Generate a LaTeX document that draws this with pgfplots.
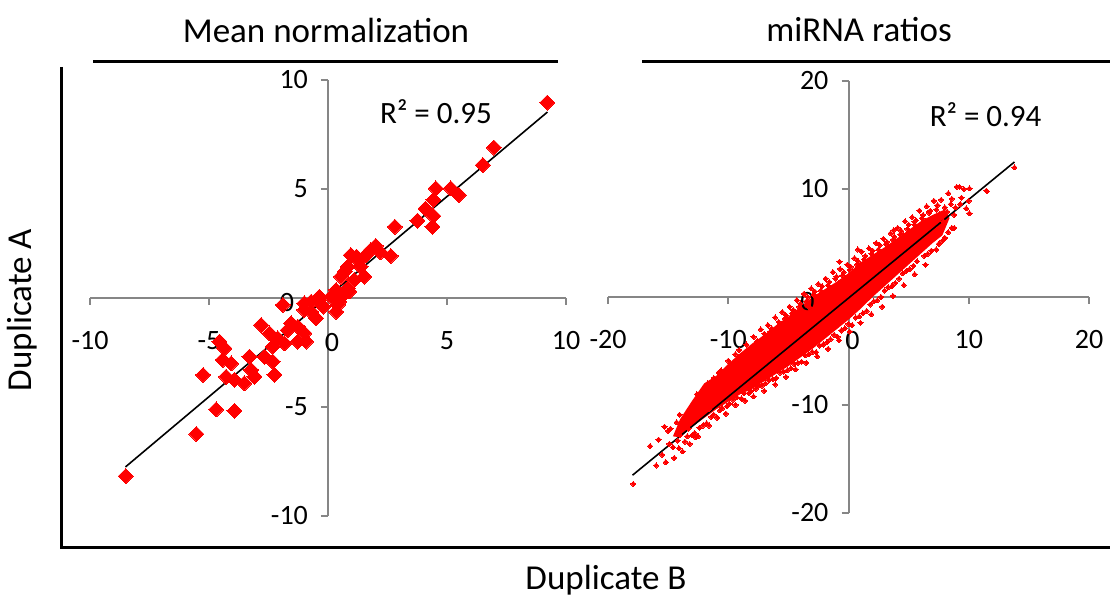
\documentclass[border=0pt]{standalone}
\usepackage{fontspec}
\setmainfont{Carlito}
\usepackage{pgfplots}
\pgfplotsset{compat=1.18}
\definecolor{axgray}{RGB}{134,134,134}
\tikzset{zlab/.style={font=\fontsize{14}{16}\selectfont}}
\pgfplotsset{
  panel/.style={
    scale only axis,
    axis lines=middle,
    axis line style={axgray, line width=1pt, -},
    every tick/.style={axgray, line width=1pt},
    tick align=outside,
    major tick length=3.5pt,
    /pgf/number format/assume math mode=true,
    ticklabel style={font=\fontsize{14}{16}\selectfont, text=black},
    xticklabel style={anchor=center, yshift=-18pt},
    yticklabel style={anchor=east, xshift=-3pt},
    clip=false,
  },
  redpts/.style={only marks, mark=square*, mark options={rotate=45, fill=red, draw=red, line width=0pt}},
}
\begin{document}
\begin{tikzpicture}
\useasboundingbox (0,0) rectangle (555pt,299.5pt);
% frame and titles
\draw[line width=1.5pt] (30.5pt,266pt) -- (30.5pt,25.5pt) -- (555pt,25.5pt);
\draw[line width=1.5pt] (46.5pt,268.5pt) -- (279pt,268.5pt);
\draw[line width=1.5pt] (321pt,268.5pt) -- (555pt,268.5pt);
\node[font=\fontsize{17.5}{20}\selectfont] at (163pt,284.5pt) {Mean normalization};
\node[font=\fontsize{17.5}{20}\selectfont] at (429.5pt,284.5pt) {miRNA ratios};
\node[font=\fontsize{17.5}{20}\selectfont, rotate=90] at (11pt,144.5pt) {Duplicate A};
\node[font=\fontsize{17.5}{20}\selectfont] at (303pt,9.5pt) {Duplicate B};

\begin{axis}[panel, at={(45pt,41.5pt)}, anchor=south west,
  width=238pt, height=218pt,
  xmin=-10, xmax=10, ymin=-10, ymax=10,
  xtick={-10,-5,0,5,10}, ytick={-10,-5,0,5,10}]
\addplot[redpts, mark size=2.65pt] coordinates {
(9.21,8.96) (6.97,6.9) (6.51,6.1) (4.53,5.03) (5.16,5.03) (5.5,4.72) (4.43,4.5) (4.1,4.1)
(4.43,3.76) (3.76,3.55) (4.39,3.27) (2.81,3.27) (2.64,1.93) (2.01,2.39) (1.8,2.2) (1.6,1.97)
(0.96,1.97) (0.83,1.44) (1.38,1.44) (0.55,0.98) (1.1,0.83) (1.52,0.98) (0.83,0.44) (0.34,0.37)
(0.47,-0.17) (0.13,0.06) (-0.36,0.06) (-0.71,-0.17) (-1.9,-0.32) (-0.99,-0.55) (-0.99,-0.24)
(-0.43,-0.09) (-0.71,-0.63) (0.41,-0.32) (0.34,-0.63) (-0.5,-0.93) (-2.81,-1.24) (-2.46,-1.62)
(-1.55,-1.16) (-1.69,-1.47) (-2.11,-1.85) (-1.27,-1.32) (-0.99,-1.62) (-0.92,-2.0) (-1.27,-2.0)
(-1.83,-2.08) (-2.32,-2.23) (-2.32,-2.92) (-2.67,-2.69) (-2.25,-3.53) (-3.3,-2.69) (-3.23,-3.3)
(-3.09,-3.61) (-3.51,-3.91) (-3.93,-3.76) (-4.28,-3.61) (-4.07,-3.0) (-4.42,-2.84) (-4.35,-2.31)
(-4.56,-2.0) (-5.25,-3.53) (-4.7,-5.11) (-3.93,-5.18) (-5.53,-6.24) (-8.5,-8.17)
(2.2,2.1) (1.3,1.7) (0.7,1.2) (1.2,1.9) (0.6,0.1) (0.9,0.3) (-0.2,-0.4)
};
\addplot[black, line width=0.8pt, no marks] coordinates {(-8.51,-7.75) (9.22,8.53)};
\node[font=\fontsize{15.5}{18}\selectfont] at (axis cs:4.54,8.53) {R² = 0.95};
\node[zlab] at (axis cs:0.17,-2.02) {0};
\node[zlab, anchor=east] at (axis cs:-1.13,-0.23) {0};
\end{axis}

\begin{axis}[panel, at={(304pt,43pt)}, anchor=south west,
  width=240.5pt, height=216pt,
  xmin=-20, xmax=20, ymin=-20, ymax=20,
  xtick={-20,-10,0,10,20}, ytick={-20,-10,0,10,20}]
% dense core of the point cloud
\addplot[fill=red, draw=none, forget plot] coordinates {
(-14.6,-12.9) (-14,-11.3) (-13,-9.6) (-12,-8.0) (-11,-7.3) (-10,-6.2) (-9,-5.2) (-8,-4.3) (-7,-3.5)
(-6,-2.6) (-5,-1.8) (-4,-0.9) (-3,0.0) (-2,0.7) (-1,1.4) (0,2.2) (1,3.2) (2,3.9) (3,4.6) (4,5.4)
(5,6.2) (6,7.0) (7,7.6) (8,8.1) (8.4,7.3) (7.8,5.7)
(7,5.0) (6,4.0) (5,3.0) (4,2.0) (3,1.0) (2,0.0) (1,-1.1) (0,-2.1) (-1,-3.0) (-2,-3.9) (-3,-4.8)
(-4,-5.6) (-5,-6.4) (-6,-7.1) (-7,-7.8) (-8,-8.5) (-9,-9.0) (-10,-9.7) (-11,-10.4) (-12,-11.2)
(-13,-12.0) (-14,-13.0) (-14.6,-12.9)
};
\addplot[redpts, mark size=0.9pt] coordinates {
(-16.5,-13.8) (-15.8,-13.2) (-15.5,-14.6) (-15.0,-12.4) (-14.6,-13.9) (-14.3,-11.6) (-14.0,-12.8)
(-13.8,-14.3) (-13.5,-11.0) (-13.3,-12.2) (-13.0,-10.3) (-12.7,-13.0) (-12.5,-9.5) (-12.2,-10.6)
(-12.0,-8.6) (-11.7,-8.0) (-11.5,-9.0) (-11.2,-7.5) (-10.9,-8.3) (-10.6,-6.8) (-10.3,-7.4)
(-10.0,-5.9) (-9.7,-6.5) (-9.4,-5.3) (-9.1,-4.9) (-8.8,-5.6) (-8.5,-4.4) (-8.2,-4.9) (-7.9,-3.7)
(-7.6,-4.1) (-7.3,-3.0) (-7.0,-3.4) (-6.7,-2.6) (-6.4,-2.9) (-6.1,-1.9) (-5.8,-2.3) (-5.5,-1.4)
(-5.2,-1.7) (-4.9,-0.9) (-4.6,-1.2) (-4.3,-0.3) (-4.0,-0.6) (-3.7,0.3) (-3.4,0.0) (-3.1,0.8)
(-2.8,0.5) (-2.5,1.2) (-2.2,1.0) (-1.9,1.7) (-1.6,1.4) (-1.3,2.3) (-1.0,1.9) (-0.7,2.6) (-0.4,2.3)
(-0.1,3.0) (0.2,2.8) (0.5,3.6) (0.8,3.3) (1.1,4.2) (1.4,3.8) (1.7,4.5) (2.0,4.3) (2.3,5.0) (2.6,4.8)
(2.9,5.4) (3.2,5.1) (3.5,5.9) (3.8,5.6) (4.1,6.4) (4.4,6.1) (4.7,7.0) (5.0,6.7) (5.3,7.4) (5.6,7.1)
(5.9,8.0) (6.2,7.6) (6.5,8.4) (6.8,8.0) (7.1,8.9) (7.4,8.5) (7.7,9.0) (8.0,8.3) (8.3,9.6) (8.6,9.1)
(9.0,10.2) (9.3,8.6) (9.6,10.0) (8.8,7.6) (9.8,8.2) (10.0,8.9) (11.5,9.8) (13.8,12.0)
(9.23,10.2) (10.06,10.06) (11.45,9.85) (10.06,7.75) (8.8,6.4) (8.0,5.45) (0.78,4.4) (-0.75,3.27)
(3.77,6.2) (5.49,6.97) (6.73,7.9) (-14.05,-10.9) (-11.55,-8.0)
(-17.9,-17.3) (-16.0,-15.6) (-15.2,-15.3) (-14.5,-14.9) (-13.6,-13.4) (-13.0,-12.8) (-12.4,-12.1)
(-11.8,-11.7) (-11.2,-10.9) (-10.5,-10.3) (-9.9,-9.9) (-9.3,-9.3) (-8.7,-8.9) (-8.1,-8.7)
(-7.5,-8.2) (-6.9,-8.0) (-6.3,-7.6) (-5.7,-7.0) (-5.1,-6.8) (-4.5,-6.2) (-3.9,-6.0) (-3.3,-5.3)
(-2.7,-5.1) (-2.1,-4.4) (-1.5,-3.9) (-0.9,-3.7) (-0.3,-2.9) (0.3,-2.6) (0.9,-1.8) (1.5,-1.3)
(2.1,-0.4) (2.7,0.0) (3.3,0.9) (3.9,1.3) (4.5,2.2) (5.1,2.6) (5.7,3.3) (6.3,3.8) (6.9,4.3)
(7.5,4.9) (8.0,5.5) (8.6,6.4) (7.2,5.8) (6.0,4.6)
(-12.6,-9.0) (-11.4,-7.9) (-10.8,-7.0) (-9.9,-6.6) (-9.2,-5.7) (-8.4,-5.0) (-7.7,-4.3) (-7.1,-3.8)
(-6.5,-3.2) (-5.9,-2.8) (-5.3,-2.0) (-4.7,-1.5) (-4.1,-0.9) (-3.5,-0.4) (-2.9,0.2) (-2.3,0.6)
(-1.7,1.1) (-1.1,1.7) (-0.5,2.0) (0.1,2.5) (0.7,3.0) (1.3,3.5) (1.9,4.0) (2.5,4.4) (3.1,4.9)
(3.7,5.3) (4.3,5.8) (4.9,6.3) (5.5,6.7) (6.1,7.3) (6.7,7.8) (7.3,8.1)
(-12.8,-12.6) (-12.1,-11.9) (-11.4,-11.1) (-10.7,-10.5) (-10.1,-10.1) (-9.6,-9.5) (-8.9,-9.4)
(-8.3,-8.9) (-7.7,-8.5) (-7.2,-8.2) (-6.6,-7.7) (-6.0,-7.5) (-5.4,-6.9) (-4.8,-6.6) (-4.2,-6.1)
(-3.6,-5.4) (-3.0,-5.1) (-2.4,-4.5) (-1.8,-4.2) (-1.2,-3.5) (-0.6,-3.1) (0.0,-2.5) (0.6,-1.9)
(1.2,-1.5) (1.8,-0.7) (2.4,-0.3) (3.0,0.6) (3.6,1.0) (4.2,1.7) (4.8,2.4) (5.4,2.9) (6.6,4.0)
(7.8,5.2) (8.3,6.0)
(-15.3,-12.0) (-14.8,-12.2) (-14.2,-13.3) (-13.9,-11.9) (-13.4,-12.9) (-13.1,-11.4) (-12.9,-10.9)
(-12.3,-9.9) (-11.9,-9.3) (-11.6,-10.4) (-11.0,-8.2) (-10.4,-8.7) (-9.8,-7.5) (-9.5,-8.1)
(-8.9,-6.3) (-8.6,-7.3) (-8.0,-5.6) (-7.4,-5.1) (-6.8,-4.7) (-6.2,-3.9) (-5.6,-3.4) (-5.0,-2.9)
(-4.4,-2.2) (-3.8,-1.5) (-3.2,-1.0) (-2.6,-0.4) (-2.0,0.2) (-1.4,0.6) (-0.8,1.3) (-0.2,1.6)
(0.4,2.2) (1.0,2.6) (1.6,3.1) (2.2,3.7) (2.8,4.1) (3.4,4.6) (4.0,5.1) (4.6,5.6) (5.2,6.1)
(5.8,6.4) (6.4,7.0) (7.0,7.3) (7.6,7.7) (8.2,7.9) (8.5,8.6) (7.9,7.0) (7.3,6.2) (8.9,8.3) (9.4,9.2)
(-14.9,-13.6) (-14.1,-14.0) (-13.2,-13.6) (-12.5,-12.9) (-11.6,-11.9) (-10.9,-11.2) (-10.2,-10.8)
(-9.4,-10.0) (-8.6,-9.6) (-7.9,-9.2) (-7.0,-8.7) (-6.1,-8.1) (-5.2,-7.4) (-4.4,-6.7) (-3.5,-6.1)
(-2.6,-5.5) (-1.7,-4.8) (-0.8,-4.0) (0.1,-3.2) (1.0,-2.4) (1.9,-1.6) (2.8,-0.9) (3.7,0.1)
(4.6,1.1) (5.5,2.1) (6.4,3.0) (7.3,4.4)
};
\addplot[black, line width=0.8pt, no marks] coordinates {(-17.96,-16.5) (13.8,12.5)};
\node[font=\fontsize{15.5}{18}\selectfont] at (axis cs:11.4,16.85) {R² = 0.94};
\node[zlab] at (axis cs:0.33,-4.07) {0};
\node[zlab, anchor=east] at (axis cs:-2.24,-0.46) {0};
\end{axis}
\end{tikzpicture}
\end{document}
